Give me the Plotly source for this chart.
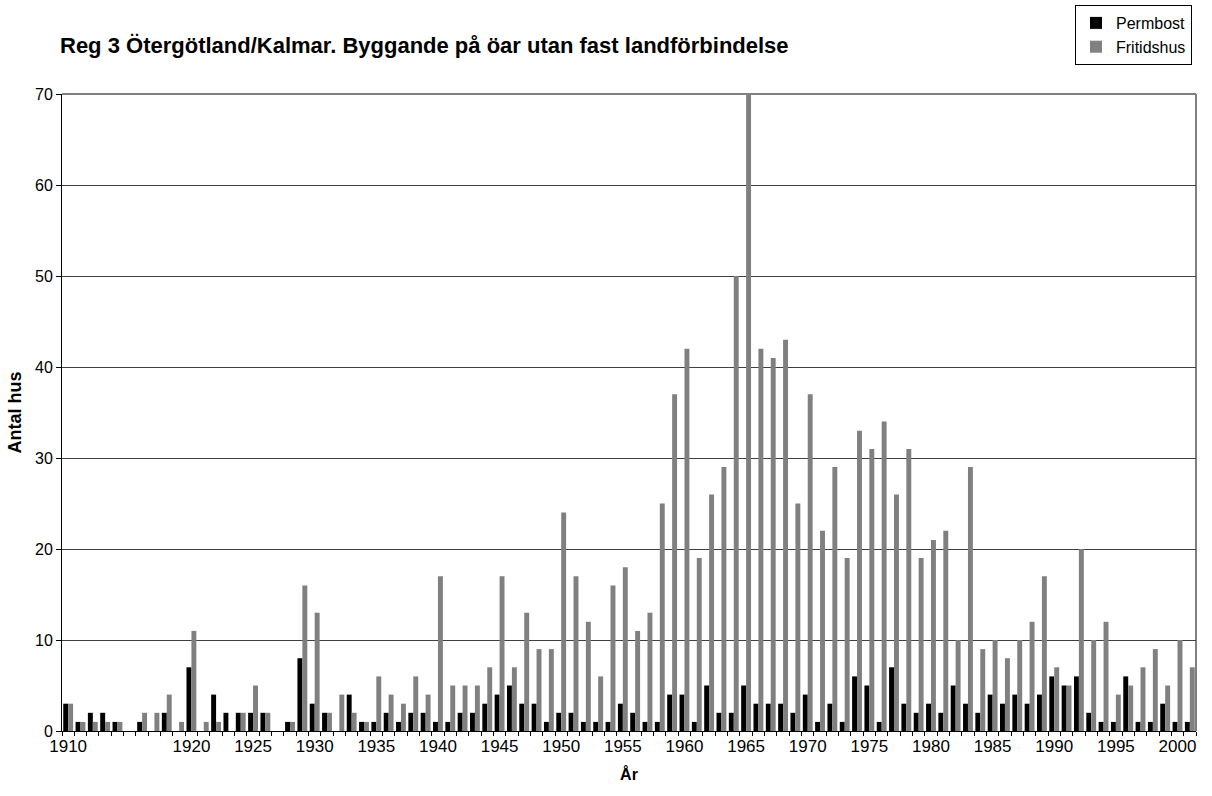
import plotly.graph_objects as go

years = list(range(1910, 2002))
permbost = [3, 1, 2, 2, 1, 0, 1, 0, 2, 0,
            7, 0, 4, 2, 2, 2, 2, 0, 1, 8,
            3, 2, 0, 4, 1, 1, 2, 1, 2, 2,
            1, 1, 2, 2, 3, 4, 5, 3, 3, 1,
            2, 2, 1, 1, 1, 3, 2, 1, 1, 4,
            4, 1, 5, 2, 2, 5, 3, 3, 3, 2,
            4, 1, 3, 1, 6, 5, 1, 7, 3, 2,
            3, 2, 5, 3, 2, 4, 3, 4, 3, 4,
            6, 5, 6, 2, 1, 1, 6, 1, 1, 3,
            1, 1]
fritidshus = [3, 1, 1, 1, 1, 0, 2, 2, 4, 1,
              11, 1, 1, 0, 2, 5, 2, 0, 1, 16,
              13, 2, 4, 2, 1, 6, 4, 3, 6, 4,
              17, 5, 5, 5, 7, 17, 7, 13, 9, 9,
              24, 17, 12, 6, 16, 18, 11, 13, 25, 37,
              42, 19, 26, 29, 50, 70, 42, 41, 43, 25,
              37, 22, 29, 19, 33, 31, 34, 26, 31, 19,
              21, 22, 10, 29, 9, 10, 8, 10, 12, 17,
              7, 5, 20, 10, 12, 4, 5, 7, 9, 5,
              10, 7]
tick_years = [1910, 1920, 1925, 1930, 1935, 1940, 1945, 1950, 1955, 1960,
              1965, 1970, 1975, 1980, 1985, 1990, 1995, 2000]

FONT = "Liberation Sans, Arial, sans-serif"
W, H = 1212, 796
L, R, T, B = 62, 16, 94, 65
PW, PH = W - L - R, H - T - B

fig = go.Figure()
fig.add_trace(go.Bar(x=years, y=permbost, name="Permbost",
                     marker=dict(color="#000000", line=dict(width=0))))
fig.add_trace(go.Bar(x=years, y=fritidshus, name="Fritidshus",
                     marker=dict(color="#808080", line=dict(width=0)),
                     cliponaxis=False))

fig.update_layout(
    width=W, height=H,
    margin=dict(l=L, r=R, t=T, b=B, autoexpand=False),
    paper_bgcolor="white", plot_bgcolor="white",
    barmode="group", bargap=0.2, bargroupgap=0.0,
    font=dict(family=FONT, size=16, color="black"),
    title=dict(text="<b>Reg 3 Ötergötland/Kalmar. Byggande på öar utan fast landförbindelse</b>",
               xref="container", yref="container",
               x=60/W, xanchor="left", y=1-45/H, yanchor="middle", pad=dict(l=0, r=0, t=0, b=0),
               font=dict(family=FONT, size=22, color="black")),
    showlegend=True,
    legend=dict(x=(1192-L)/PW, xanchor="right", y=(H-B-5)/PH, yanchor="top",
                bordercolor="black", borderwidth=1, bgcolor="white",
                font=dict(family=FONT, size=16, color="black"),
                itemwidth=30, tracegroupgap=0),
    xaxis=dict(range=[1909.5, 2001.5], tickmode="array", tickvals=tick_years,
               ticks="", showgrid=False, zeroline=False,
               showline=True, linecolor="black", linewidth=1,
               tickfont=dict(family=FONT, size=17, color="black"),
               title=dict(text="<b>År</b>", font=dict(family=FONT, size=16, color="black"), standoff=13),
               minor=dict(tickmode="linear", tick0=1909.5, dtick=1, ticks="outside",
                          ticklen=4, tickcolor="black", tickwidth=1, showgrid=False)),
    yaxis=dict(range=[0, 70], dtick=10, showgrid=True, gridcolor="#404040", gridwidth=1,
               zeroline=False, showline=True, linecolor="black", linewidth=1,
               ticks="outside", ticklen=5, tickcolor="black", ticklabelstandoff=0,
               tickfont=dict(family=FONT, size=16, color="black"),
               title=dict(text="<b>Antal hus</b>", font=dict(family=FONT, size=18, color="black"), standoff=8)),
)

# gray plot-area border on top and right (Excel style)
fig.add_shape(type="line", xref="paper", yref="paper", x0=0, x1=1, y0=1, y1=1,
              line=dict(color="#808080", width=2), layer="below")
fig.add_shape(type="line", xref="paper", yref="paper", x0=1, x1=1, y0=0, y1=1,
              line=dict(color="#808080", width=2), layer="below")

fig.write_html("out.html", config={"displayModeBar": False},
               post_script="document.body.style.margin='0';")
